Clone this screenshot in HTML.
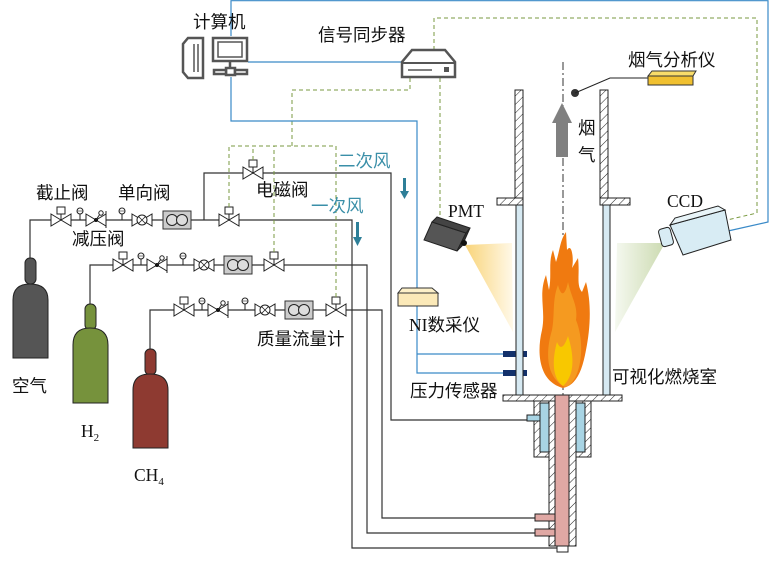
<!DOCTYPE html>
<html><head><meta charset="utf-8"><style>
html,body{margin:0;padding:0;background:#fff;}
svg{display:block;}
text{font-family:"Liberation Sans","Noto Sans CJK SC",sans-serif;font-size:17.5px;fill:#111;}
.s{font-family:"Liberation Serif","Noto Serif CJK SC",serif;}
</style></head><body>
<svg width="770" height="576" viewBox="0 0 770 576" xmlns="http://www.w3.org/2000/svg">
<defs>
<pattern id="h" width="6" height="6" patternUnits="userSpaceOnUse" patternTransform="rotate(45)"><rect width="6" height="6" fill="#fff"/><line x1="0" y1="0" x2="0" y2="6" stroke="#222" stroke-width="1"/></pattern>
<linearGradient id="yc" x1="0" x2="1"><stop offset="0" stop-color="#f8cf6a"/><stop offset="1" stop-color="#fff8e6"/></linearGradient>
<linearGradient id="gc" x1="1" x2="0"><stop offset="0" stop-color="#c6d6a8"/><stop offset="1" stop-color="#f4f8ee"/></linearGradient>
<g id="bt"><path d="M-10,-6 L10,6 L10,-6 L-10,6 Z" fill="#fff" stroke="#222" stroke-width="1"/></g>
<g id="sol"><use href="#bt"/><line x1="0" y1="0" x2="0" y2="-6" stroke="#222"/><rect x="-4" y="-13" width="8" height="7" fill="#fff" stroke="#222"/></g>
<g id="gg"><line x1="0" y1="0" x2="0" y2="-7" stroke="#222"/><circle cx="0" cy="-9" r="3" fill="#fff" stroke="#222"/><line x1="-3" y1="-9" x2="3" y2="-9" stroke="#222" stroke-width=".6"/></g>
<g id="rd"><use href="#bt"/><circle cx="0" cy="0" r="2" fill="#111"/><line x1="10" y1="-9" x2="10" y2="8" stroke="#222"/><line x1="0" y1="0" x2="4" y2="-6" stroke="#222"/><circle cx="5" cy="-7" r="2.2" fill="#fff" stroke="#222"/></g>
<g id="ck"><use href="#bt"/><circle cx="0" cy="0" r="5" fill="#fff" stroke="#222"/><path d="M-3.5,-3.5 L3.5,3.5 M-3.5,3.5 L3.5,-3.5" stroke="#222" stroke-width=".8"/></g>
<g id="mf"><rect x="-14" y="-9" width="28" height="18" fill="#ccc" stroke="#333"/><circle cx="-5" cy="0" r="5.5" fill="#ddd" stroke="#222"/><circle cx="5" cy="0" r="5.5" fill="#ddd" stroke="#222"/></g>
</defs>

<g fill="none" stroke="#333" stroke-width="1.2">
<path d="M30,258 V220 H352 V548 H557"/>
<path d="M204,220 V173 H391 V420 H536"/>
<path d="M90,304 V265 H367 V533 H536"/>
<path d="M150,349 V310 H382 V518 H536"/>
</g>
<use href="#sol" x="61" y="220"/><use href="#gg" x="80" y="220"/><use href="#rd" x="96" y="220"/><use href="#gg" x="122" y="220"/><use href="#ck" x="142" y="220"/><use href="#mf" x="177" y="220"/><use href="#sol" x="229" y="220"/>
<use href="#sol" x="253" y="173"/>
<use href="#sol" x="123" y="265"/><use href="#gg" x="141" y="265"/><use href="#rd" x="157" y="265"/><use href="#gg" x="183" y="265"/><use href="#ck" x="204" y="265"/><use href="#mf" x="238" y="265"/><use href="#sol" x="274" y="265"/>
<use href="#sol" x="184" y="310"/><use href="#gg" x="202" y="310"/><use href="#rd" x="218" y="310"/><use href="#gg" x="245" y="310"/><use href="#ck" x="265" y="310"/><use href="#mf" x="299" y="310"/><use href="#sol" x="336" y="310"/>

<g stroke="#222" stroke-width="1">
<rect x="25" y="258" width="11" height="26" rx="5" fill="#555"/><path d="M13,358 V300 Q13,284 30,284 Q48,284 48,300 V358 Z" fill="#555"/>
<rect x="85" y="304" width="11" height="26" rx="5" fill="#76923c"/><path d="M73,403 V345 Q73,328 90,328 Q108,328 108,345 V403 Z" fill="#76923c"/>
<rect x="145" y="349" width="11" height="26" rx="5" fill="#8e3a31"/><path d="M133,448 V390 Q133,374 150,374 Q168,374 168,390 V448 Z" fill="#8e3a31"/>
</g>

<g fill="none" stroke="#7a9a40" stroke-width="1" stroke-dasharray="4,3">
<path d="M434,50 V18 H757 V213 L727,220"/>
<path d="M440,78 V223"/>
<path d="M410,78 V90 H292 V146"/>
<path d="M229,207 V146 H336 V297"/>
<path d="M253,160 V146"/><path d="M274,252 V146"/>
</g>
<g fill="none" stroke="#3a8ac8" stroke-width="1.2">
<path d="M231,36 V0.7 H768 V222 L728,231"/>
<path d="M248,62 H402"/>
<path d="M231,77 V121 H417 V288"/>
<path d="M417,306 V373 H503 M417,354 H503"/>
</g>
<rect x="503" y="351" width="24" height="6" fill="#12306a"/><rect x="503" y="370" width="24" height="6" fill="#12306a"/>

<g fill="#fff" stroke="#555" stroke-width="2.5">
<path d="M188,38 H203 V78 H188 L183,72 V44 Z"/>
<rect x="213" y="38" width="34" height="23"/><rect x="218" y="42" width="24" height="15" stroke-width="1.5"/>
<line x1="230" y1="61" x2="230" y2="68"/><rect x="226" y="68" width="9" height="7"/><rect x="214" y="70" width="12" height="4"/><rect x="235" y="70" width="12" height="4"/>
</g>
<line x1="194" y1="44" x2="194" y2="72" stroke="#555" stroke-width="1.5"/><line x1="198" y1="44" x2="198" y2="72" stroke="#555" stroke-width="1.5"/>
<path d="M412,50 H445 L455,62 V77 H402 V62 Z" fill="#fff" stroke="#555" stroke-width="2.5"/>
<line x1="402" y1="63" x2="455" y2="63" stroke="#555" stroke-width="2"/><line x1="408" y1="70" x2="432" y2="70" stroke="#555" stroke-width="1.5"/><rect x="444" y="67" width="5" height="5" fill="#555"/>

<polygon points="512,243 465,245 513,332" fill="url(#yc)" opacity=".9"/>
<polygon points="617,243 665,243 615,332" fill="url(#gc)" opacity=".9"/>
<g stroke="#222" stroke-width="1">
<rect x="515" y="90" width="8" height="108" fill="url(#h)"/><rect x="497" y="198" width="26" height="7" fill="url(#h)"/>
<rect x="600" y="90" width="8" height="108" fill="url(#h)"/><rect x="600" y="198" width="30" height="7" fill="url(#h)"/>
<rect x="516" y="205" width="7" height="190" fill="#d6e9f2"/><rect x="603" y="205" width="7" height="190" fill="#d6e9f2"/>
<rect x="503" y="395" width="119" height="6" fill="url(#h)"/>
<rect x="534" y="401" width="57" height="56" fill="url(#h)"/>
<rect x="540" y="403" width="11" height="49" fill="#a8d4e4"/><rect x="576" y="403" width="9" height="49" fill="#a8d4e4"/>
<rect x="549" y="401" width="27" height="145" fill="url(#h)"/>
<rect x="555" y="395" width="14" height="151" fill="#e0a8a4"/>
<rect x="535" y="514" width="20" height="7" fill="#e0a8a4"/><rect x="535" y="529" width="20" height="7" fill="#e0a8a4"/>
<rect x="557" y="546" width="11" height="6" fill="#fff"/>
<rect x="527" y="415" width="13" height="6" fill="#a8d4e4"/>
</g>
<line x1="563" y1="62" x2="563" y2="395" stroke="#333" stroke-dasharray="8,3,2,3"/>
<path d="M563,388 C540,382 536,355 542,330 C546,310 538,295 546,275 L549,290 C552,275 548,262 553,250 L556,262 C560,250 560,240 566,232 L567,250 C572,242 574,260 572,268 L578,258 C580,275 576,285 582,292 L586,282 C592,305 590,330 586,350 C582,372 576,385 563,388 Z" fill="#f07a10"/>
<path d="M563,386 C545,375 546,350 552,330 C555,315 552,300 558,285 C562,300 566,292 568,282 C572,300 578,305 576,320 C584,340 582,365 575,378 C570,386 566,388 563,386 Z" fill="#f59a20"/>
<path d="M563,386 C552,378 552,360 557,342 C561,352 565,345 568,336 C575,358 574,376 563,386 Z" fill="#f8c800"/>
<path d="M556,157 V123 H552 L562,103 L572,123 H568 V157 Z" fill="#808080"/>
<circle cx="575" cy="93" r="4" fill="#333"/><path d="M575,93 L610,78 H648" fill="none" stroke="#222"/>
<path d="M648,76 L652,71 H696 L693,76 Z" fill="#f8dc6a" stroke="#333"/><rect x="648" y="76" width="45" height="9" fill="#f0c030" stroke="#333"/>
<path d="M432,222 L466,233 L457,251 L424,240 Z" fill="#555" stroke="#222"/><path d="M432,222 L437,217 L470,228 L466,233 Z" fill="#444" stroke="#222"/><path d="M466,233 L470,228 L462,246 L457,251 Z" fill="#333" stroke="#222"/><circle cx="464" cy="243" r="3" fill="#111"/>
<path d="M670,225 L725,210 L731,240 L683,255 Z" fill="#d8ecf4" stroke="#222"/><path d="M670,225 L675,218 L718,206 L725,210 Z" fill="#e8f4f8" stroke="#222"/><rect x="660" y="228" width="12" height="18" rx="3" fill="#d8ecf4" stroke="#222" transform="rotate(-15 666 237)"/>
<path d="M398,293 L402,288 H432 L438,293 Z" fill="#fdf0c8" stroke="#333"/><rect x="398" y="293" width="40" height="13" fill="#fbe9b8" stroke="#333"/>
<g fill="#2e7f98"><rect x="403" y="178" width="3" height="14"/><path d="M400,191 H409 L404.5,199 Z"/><rect x="356" y="222" width="3" height="16"/><path d="M353,237 H362 L357.5,246 Z"/></g>

<text x="193" y="28">计算机</text>
<text x="318" y="41">信号同步器</text>
<text x="628" y="66">烟气分析仪</text>
<text x="578" y="134">烟</text><text x="578" y="161">气</text>
<text x="36" y="199">截止阀</text><text x="118" y="199">单向阀</text>
<text x="72" y="245">减压阀</text><text x="256" y="196">电磁阀</text>
<text x="338" y="167" style="fill:#3a8fa8">二次风</text><text x="311" y="212" style="fill:#3a8fa8">一次风</text>
<text x="257" y="345">质量流量计</text>
<text x="409" y="331"><tspan class="s">NI</tspan>数采仪</text>
<text x="410" y="397">压力传感器</text>
<text x="612" y="383">可视化燃烧室</text>
<text class="s" x="448" y="217">PMT</text>
<text class="s" x="667" y="207">CCD</text>
<text x="12" y="392">空气</text>
<text class="s" x="81" y="437">H<tspan font-size="11" dy="4">2</tspan></text>
<text class="s" x="134" y="481">CH<tspan font-size="11" dy="4">4</tspan></text>
</svg>
</body></html>
